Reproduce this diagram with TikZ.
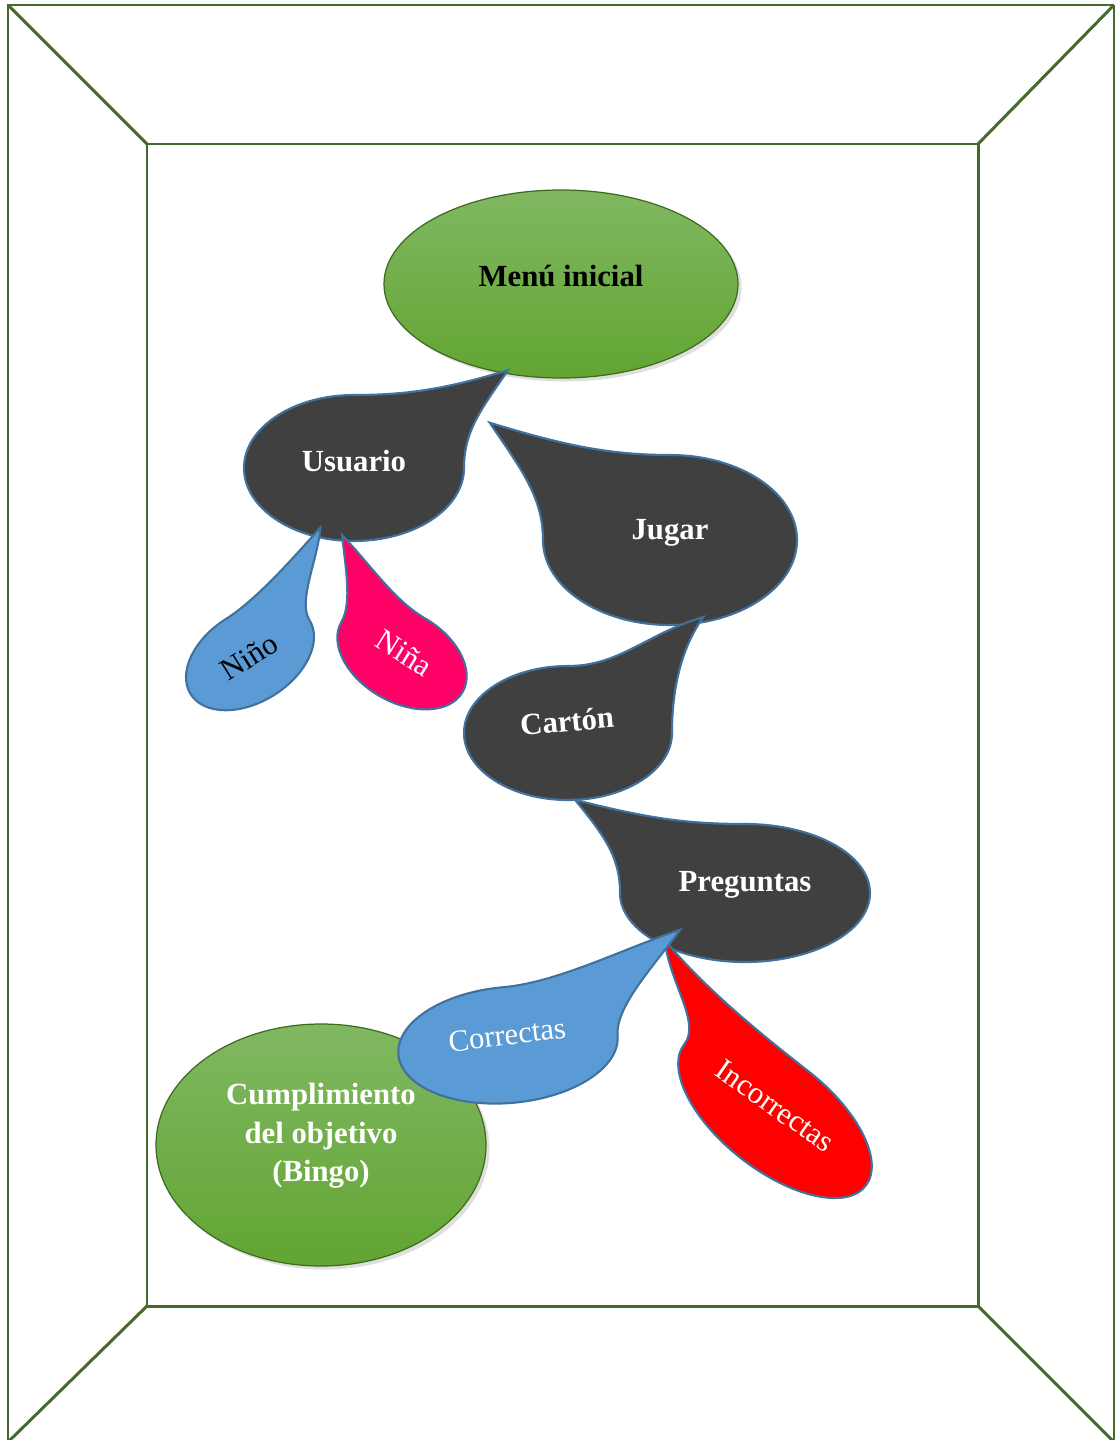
\documentclass[tikz,border=0pt]{standalone}
\usepackage{fontspec}
\setmainfont{Liberation Serif}
\usepackage{tikz}
\usetikzlibrary{shadows}
\definecolor{framegreen}{HTML}{466A2E}
\definecolor{tearline}{HTML}{41719C}
\definecolor{teargray}{HTML}{404040}
\definecolor{tearblue}{HTML}{5B9BD5}
\definecolor{tearpink}{HTML}{FF0066}
\definecolor{greentop}{HTML}{80B862}
\definecolor{greenbot}{HTML}{62A532}
\definecolor{greenline}{HTML}{3F6B1F}

\newcommand{\tear}[8]{%
  \pgfmathsetmacro\tax{#6-0.25}\pgfmathsetmacro\tay{#7-0.55}%
  \pgfmathsetmacro\tbx{#6-0.55}\pgfmathsetmacro\tby{#7-0.25}%
  \begin{scope}[shift={(#1,#2)},rotate=#5,xscale=#3,yscale=-#4]
    \filldraw[tearshape,#8] (0,1) arc[start angle=90,end angle=360,radius=1]
      .. controls (1,0.5) and (\tax,\tay) .. (#6,#7)
      .. controls (\tbx,\tby) and (0.5,1) .. (0,1) -- cycle;
  \end{scope}}

\tikzset{
  tearshape/.style={draw=tearline,line width=1.2pt},
  ball/.style={draw=greenline,line width=0.7pt,top color=greentop,bottom color=greenbot,
    drop shadow={opacity=0.25,shadow xshift=2pt,shadow yshift=-2pt}},
  boldlbl/.style={font=\fontsize{17.5}{22}\selectfont\bfseries,text=white,align=center},
  thinlbl/.style={font=\fontsize{17.5}{22}\selectfont,text=white}
}

\begin{document}
\begin{tikzpicture}[x=0.02cm,y=-0.02cm]
  \useasboundingbox (0,0) rectangle (1116,1440);
  \fill[white] (0,0) rectangle (1116,1440);
  % frame
  \draw[framegreen,line width=1.7pt] (8,1445) -- (8,5) -- (1114,5);
  \draw[framegreen,line width=0.9pt] (1114,5) -- (1114,1445);
  \draw[framegreen,line width=1.7pt] (147,144) rectangle (978,1306);
  \draw[framegreen,line width=1.7pt] (8,5) -- (147,144) (1114,5) -- (978,144)
    (8,1442) -- (147,1306) (1114,1442) -- (978,1306);

  \draw[ball] (561,284) ellipse [x radius=177,y radius=94];
  \tear{354}{468}{110}{73}{0}{1.4}{1.34}{fill=teargray}
  \tear{670}{540}{-127}{85}{0}{1.42}{1.38}{fill=teargray}
  \tear{250}{657}{70}{45}{32}{1.83}{1.61}{fill=tearblue}
  \tear{402}{657}{-70}{45}{-30}{1.61}{1.68}{fill=tearpink}
  \tear{568}{733}{104}{67}{0}{1.3}{1.73}{fill=teargray}
  \tear{745}{893}{-125}{69}{0}{1.36}{1.35}{fill=teargray}
  \draw[ball] (321,1145) ellipse [x radius=165,y radius=121];
  \tear{775}{1115}{-115}{55}{-38}{1.69}{1.27}{fill=red}
  \tear{508}{1045}{110}{58}{5}{1.65}{1.72}{fill=tearblue}

  \node[boldlbl,text=black] (menu) at (561,276) {Menú inicial};
  \node[boldlbl] (usuario) at (354,461) {Usuario};
  \node[boldlbl] (jugar) at (670,533) {Jugar};
  \node[boldlbl,rotate=5] (carton) at (567,721) {Cartón};
  \node[boldlbl] (preguntas) at (745,885) {Preguntas};
  \node[thinlbl,text=black,rotate=32] (nino) at (249,657) {Niño};
  \node[thinlbl,rotate=-32] (nina) at (404,653) {Niña};
  \node[thinlbl,rotate=7] (correctas) at (507,1035) {Correctas};
  \node[thinlbl,rotate=-35] (incorrectas) at (775,1106) {Incorrectas};
  \node[boldlbl] (bingo) at (321,1136) {Cumplimiento\\del objetivo\\(Bingo)};
\end{tikzpicture}
\end{document}
